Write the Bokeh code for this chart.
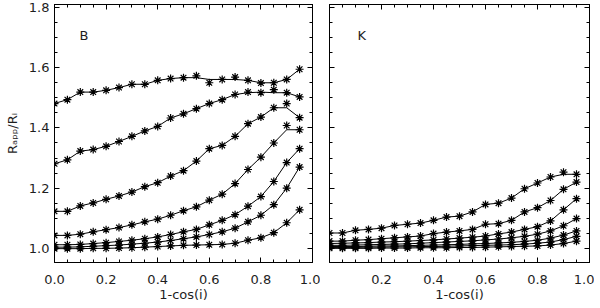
from bokeh.plotting import figure
from bokeh.layouts import row
from bokeh.models import (Label, LinearAxis, FixedTicker,
                          NumeralTickFormatter, Range1d)
from bokeh.embed import file_html
from bokeh.resources import INLINE

# ---------------- data ----------------
x = [0.00, 0.05, 0.10, 0.15, 0.20, 0.25, 0.30, 0.35, 0.40, 0.45,
     0.50, 0.55, 0.60, 0.65, 0.70, 0.75, 0.80, 0.85, 0.90, 0.95]

b1 = [1.481, 1.494, 1.519, 1.519, 1.525, 1.534, 1.545, 1.545, 1.558, 1.564,
      1.567, 1.573, 1.550, 1.561, 1.569, 1.558, 1.549, 1.550, 1.561, 1.595]
b2 = [1.281, 1.294, 1.323, 1.328, 1.339, 1.355, 1.372, 1.390, 1.405, 1.433,
      1.447, 1.464, 1.481, 1.494, 1.511, 1.519, 1.517, 1.527, 1.517, 1.503]
b3 = [1.123, 1.123, 1.141, 1.151, 1.163, 1.174, 1.187, 1.205, 1.218, 1.240,
      1.258, 1.290, 1.331, 1.342, 1.372, 1.414, 1.436, 1.467, 1.481, 1.434]
b4 = [1.043, 1.043, 1.047, 1.055, 1.062, 1.069, 1.078, 1.088, 1.097, 1.110,
      1.125, 1.138, 1.160, 1.180, 1.215, 1.262, 1.303, 1.350, 1.408, 1.394]
b5 = [1.012, 1.012, 1.013, 1.016, 1.019, 1.023, 1.027, 1.032, 1.038, 1.046,
      1.055, 1.063, 1.078, 1.093, 1.112, 1.140, 1.172, 1.222, 1.285, 1.331]
b6 = [1.004, 1.004, 1.005, 1.007, 1.009, 1.011, 1.014, 1.017, 1.021, 1.026,
      1.032, 1.038, 1.046, 1.055, 1.067, 1.088, 1.110, 1.145, 1.200, 1.270]
b7 = [0.999, 0.999, 0.999, 1.000, 1.000, 1.001, 1.002, 1.004, 1.006, 1.008,
      1.010, 1.011, 1.012, 1.013, 1.017, 1.027, 1.035, 1.052, 1.085, 1.128]

k1 = [1.051, 1.051, 1.060, 1.063, 1.067, 1.076, 1.080, 1.084, 1.093, 1.104,
      1.107, 1.121, 1.146, 1.150, 1.167, 1.198, 1.217, 1.237, 1.253, 1.246]
k2 = [1.024, 1.024, 1.027, 1.029, 1.032, 1.035, 1.038, 1.041, 1.049, 1.054,
      1.058, 1.063, 1.080, 1.082, 1.093, 1.121, 1.135, 1.159, 1.196, 1.220]
k3 = [1.016, 1.017, 1.018, 1.019, 1.021, 1.022, 1.024, 1.026, 1.028, 1.031,
      1.034, 1.037, 1.041, 1.048, 1.054, 1.063, 1.072, 1.091, 1.128, 1.165]
k4 = [1.010, 1.010, 1.011, 1.012, 1.013, 1.014, 1.015, 1.017, 1.019, 1.021,
      1.023, 1.025, 1.028, 1.031, 1.035, 1.040, 1.047, 1.058, 1.075, 1.099]
k5 = [1.006, 1.006, 1.006, 1.007, 1.008, 1.008, 1.009, 1.010, 1.011, 1.012,
      1.013, 1.015, 1.016, 1.018, 1.020, 1.023, 1.027, 1.034, 1.044, 1.058]
k6 = [1.003, 1.003, 1.003, 1.004, 1.004, 1.005, 1.005, 1.006, 1.006, 1.007,
      1.008, 1.009, 1.010, 1.011, 1.012, 1.014, 1.017, 1.021, 1.029, 1.040]
k7 = [1.000, 1.000, 1.000, 1.000, 1.001, 1.001, 1.001, 1.002, 1.002, 1.002,
      1.003, 1.003, 1.004, 1.005, 1.006, 1.007, 1.008, 1.011, 1.016, 1.024]

b_series = [b1, b2, b3, b4, b5, b6, b7]
k_series = [k1, k2, k3, k4, k5, k6, k7]

x_title = "1-cos(i)"
y_title = "R\u2090\u209a\u209a/R\u1d62"

FONT = "DejaVu Sans"
TXT = "#1e1e1e"
FS = "13px"


def grid_values(lo, hi, step):
    n = int(round((hi - lo) / step))
    return [round(lo + i * step, 4) for i in range(n + 1)]


X_MAJ = grid_values(0.0, 1.0, 0.2)
X_ALL = grid_values(0.0, 1.0, 0.05)
X_MIN = [v for v in X_ALL if v not in X_MAJ]
Y_MAJ = grid_values(1.0, 1.8, 0.2)
Y_ALL = grid_values(0.95, 1.8, 0.05)
Y_MIN = [v for v in Y_ALL if v not in Y_MAJ]


def base_style(ax):
    ax.axis_line_color = "black"
    ax.major_tick_line_color = "black"
    ax.minor_tick_line_color = "black"
    ax.major_tick_out = 0
    ax.minor_tick_out = 0
    ax.major_label_text_font = FONT
    ax.major_label_text_color = TXT
    ax.major_label_text_font_size = FS
    ax.axis_label_text_font = FONT
    ax.axis_label_text_font_size = FS
    ax.axis_label_text_font_style = "normal"
    ax.axis_label_text_color = TXT


def labeled_axis(majors, minors, standoff):
    ax = LinearAxis(ticker=FixedTicker(ticks=majors, minor_ticks=minors),
                    formatter=NumeralTickFormatter(format="0.0"))
    base_style(ax)
    ax.major_tick_in = 5
    ax.minor_tick_in = 3
    ax.major_label_standoff = standoff
    return ax


def tick_only_axis(positions, length):
    # axis without any major tick => no tick labels at all
    ax = LinearAxis(ticker=FixedTicker(ticks=[], minor_ticks=positions))
    base_style(ax)
    ax.major_tick_in = 0
    ax.minor_tick_in = length
    ax.major_label_standoff = 0
    return ax


def smooth_line(ys):
    # the drawn curve is a fit: suppress single-point outliers (median of 3)
    out = list(ys)
    for i in range(1, len(ys) - 1):
        out[i] = sorted(ys[i - 1:i + 2])[1]
    return out


def make_panel(series, letter, is_left, fw, mbl, mbr):
    p = figure(frame_width=fw, frame_height=258,
               x_range=Range1d(0.0, 1.0), y_range=Range1d(0.953, 1.81),
               x_axis_location=None, y_axis_location=None,
               output_backend="svg", toolbar_location=None,
               min_border_left=mbl, min_border_right=mbr,
               min_border_top=4, min_border_bottom=44)
    p.grid.visible = False
    p.outline_line_color = "black"
    p.background_fill_color = "white"
    p.border_fill_color = "white"

    # bottom axis with labels and title
    xb = labeled_axis(X_MAJ if is_left else X_MAJ[1:], X_MIN, 12)
    xb.axis_label = x_title
    xb.axis_label_standoff = 0
    p.add_layout(xb, "below")

    # left axis
    if is_left:
        yl = labeled_axis(Y_MAJ, Y_MIN, 5)
        yl.axis_label = y_title
        yl.axis_label_standoff = 6
        p.add_layout(yl, "left")
    else:
        p.add_layout(tick_only_axis(Y_MIN, 3), "left")
        p.add_layout(tick_only_axis(Y_MAJ, 5), "left")

    # mirrored ticks on top and right
    p.add_layout(tick_only_axis(X_MIN, 3), "above")
    p.add_layout(tick_only_axis(X_MAJ, 5), "above")
    p.add_layout(tick_only_axis(Y_MIN, 3), "right")
    p.add_layout(tick_only_axis(Y_MAJ, 5), "right")

    for ys in series:
        p.line(x, smooth_line(ys), line_color="black", line_width=1)
        p.scatter(x, ys, marker="asterisk", size=8, line_color="black",
                  line_width=1.2)

    p.add_layout(Label(x=0.097 if is_left else 0.108, y=1.708,
                       text=letter, text_baseline="alphabetic",
                       text_font=FONT, text_font_size=FS, text_color=TXT))
    return p


p1 = make_panel(b_series, "B", True, 258, 54, 8)
p2 = make_panel(k_series, "K", False, 260, 9, 5)

layout = row(p1, p2)

open("out.html", "w").write(file_html(layout, INLINE))
